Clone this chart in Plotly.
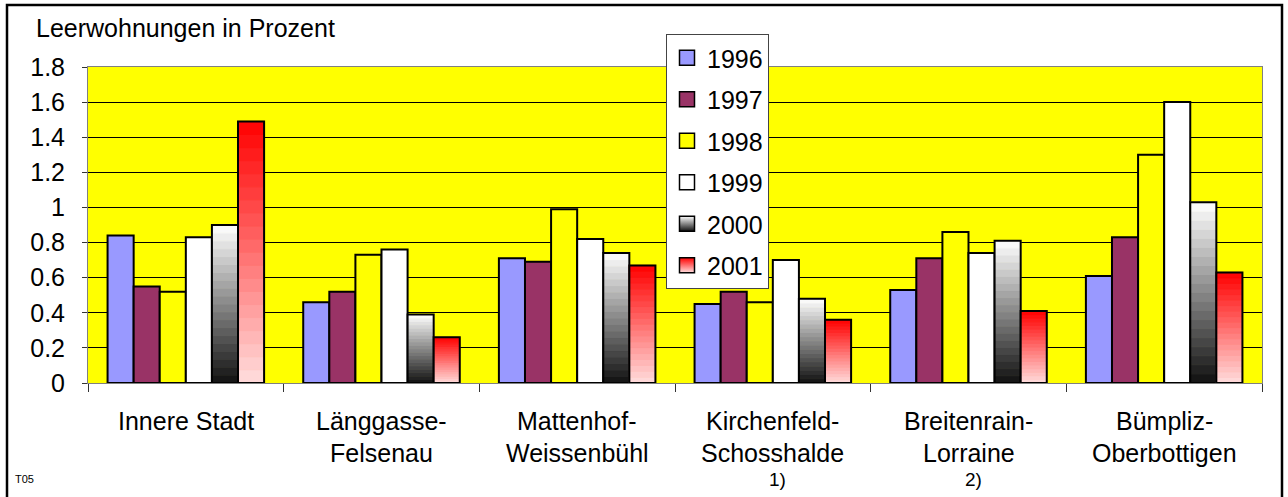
import plotly.graph_objects as go

# Districts (category keys) and their label lines under the axis
districts = ["Innere Stadt", "Länggasse", "Mattenhof", "Kirchenfeld", "Breitenrain", "Bümpliz"]
label_lines = [
    ["Innere Stadt"],
    ["Länggasse-", "Felsenau"],
    ["Mattenhof-", "Weissenbühl"],
    ["Kirchenfeld-", "Schosshalde"],
    ["Breitenrain-", "Lorraine"],
    ["Bümpliz-", "Oberbottigen"],
]
footnotes = ["", "", "", "1)", "2)", ""]

# Vacancy rates in percent per year
v1996 = [0.84, 0.46, 0.71, 0.45, 0.53, 0.61]
v1997 = [0.55, 0.52, 0.69, 0.52, 0.71, 0.83]
v1998 = [0.52, 0.73, 0.99, 0.46, 0.86, 1.30]
v1999 = [0.83, 0.76, 0.82, 0.70, 0.74, 1.60]
v2000 = [0.90, 0.39, 0.74, 0.48, 0.81, 1.03]
v2001 = [1.49, 0.26, 0.67, 0.36, 0.41, 0.63]

y_ticks = [0, 0.2, 0.4, 0.6, 0.8, 1, 1.2, 1.4, 1.6, 1.8]

W, H = 1288, 497
L, R, T, B = 88, 26, 67, 114
PW, PH = W - L - R, H - T - B


def px(x):
    return (x - L) / PW


def py(y):
    return (H - B - y) / PH


FONT = "Liberation Sans, Arial, sans-serif"
FS = 25
OUTLINE = dict(color="black", width=2)

fig = go.Figure()

solid = [("1996", v1996, "#9999FF"), ("1997", v1997, "#993366"),
         ("1998", v1998, "#FFFF00"), ("1999", v1999, "#FFFFFF")]
for name, vals, col in solid:
    fig.add_trace(go.Bar(x=districts, y=vals, name=name, offsetgroup=name,
                         marker=dict(color=col, line=OUTLINE), showlegend=False))


def mix(c0, c1, t):
    return "rgb(%d,%d,%d)" % tuple(round(a + (b - a) * t) for a, b in zip(c0, c1))


# Gradient-filled series: each bar is built from stacked slices of its own value
N = 20
gradient = [("2000", v2000, (16, 16, 16), (255, 255, 255)),
            ("2001", v2001, (255, 222, 222), (255, 0, 0))]
for name, vals, c_bottom, c_top in gradient:
    for k in range(N):
        c = mix(c_bottom, c_top, (k + 0.5) / N)
        fig.add_trace(go.Bar(
            x=districts, y=[v / N for v in vals], base=[v * k / N for v in vals],
            offsetgroup=name, marker=dict(color=c, line=dict(color=c, width=1)),
            showlegend=False))
    fig.add_trace(go.Bar(x=districts, y=vals, offsetgroup=name,
                         marker=dict(color="rgba(0,0,0,0)", line=OUTLINE), showlegend=False))

# Legend entries
legend_items = [("1996", "#9999FF", None), ("1997", "#993366", None),
                ("1998", "#FFFF00", None), ("1999", "#FFFFFF", None),
                ("2000", "#FFFFFF", "#101010"), ("2001", "#FF0000", "#FFDEDE")]
for name, col, gcol in legend_items:
    marker = dict(symbol="square", size=15, color=col, line=dict(color="black", width=1.5))
    if gcol:
        marker["gradient"] = dict(type="vertical", color=gcol)
    fig.add_trace(go.Scatter(x=[None], y=[None], mode="markers", name=name,
                             legendgroup=name, marker=marker, showlegend=True))

# District labels, one annotation per line, placed on the category axis
annotations = []
line_y = [421, 453]
for d, lines, fn in zip(districts, label_lines, footnotes):
    for j, txt in enumerate(lines):
        annotations.append(dict(text=txt, xref="x", yref="paper", x=d, y=py(line_y[j]),
                                xanchor="center", yanchor="middle", showarrow=False,
                                font=dict(size=FS)))
    if fn:
        annotations.append(dict(text=fn, xref="x", yref="paper", x=d, y=py(479),
                                xanchor="center", yanchor="middle", showarrow=False,
                                xshift=5, font=dict(size=19)))

annotations += [
    dict(text="Leerwohnungen in Prozent", xref="paper", yref="paper",
         x=px(34), y=py(28), xanchor="left", yanchor="middle",
         showarrow=False, font=dict(size=FS)),
    dict(text="T05", xref="paper", yref="paper",
         x=px(13), y=py(479), xanchor="left", yanchor="middle",
         showarrow=False, font=dict(size=11)),
]

fig.update_layout(
    width=W, height=H,
    margin=dict(l=L, r=R, t=T, b=B),
    paper_bgcolor="white", plot_bgcolor="#FFFF00",
    barmode="group", bargap=0.2, bargroupgap=0,
    hovermode=False,
    font=dict(family=FONT, size=FS, color="black"),
    legend=dict(x=px(666), y=py(34), xanchor="left", yanchor="top",
                bgcolor="white", bordercolor="#444", borderwidth=1,
                font=dict(size=FS), tracegroupgap=6, itemwidth=30, maxheight=400),
    xaxis=dict(categoryorder="array", categoryarray=districts,
               tickson="boundaries", ticks="outside", ticklen=8, tickcolor="#333",
               showticklabels=False,
               showline=True, linecolor="#808080", linewidth=1, mirror=True,
               showgrid=False),
    yaxis=dict(range=[0, 1.8], tickmode="array", tickvals=y_ticks,
               ticks="outside", ticklen=5, tickcolor="#333",
               showline=True, linecolor="#808080", linewidth=1, mirror=True,
               showgrid=True, gridcolor="black", gridwidth=1, zeroline=False,
               ticklabelstandoff=12, tickfont=dict(size=FS)),
    annotations=annotations,
    shapes=[
        dict(type="rect", xref="paper", yref="paper",
             x0=px(7), x1=px(1282), y0=py(5), y1=py(505),
             line=dict(color="black", width=2.5), fillcolor="rgba(0,0,0,0)", layer="above"),
    ],
)

fig.write_html("out.html")
